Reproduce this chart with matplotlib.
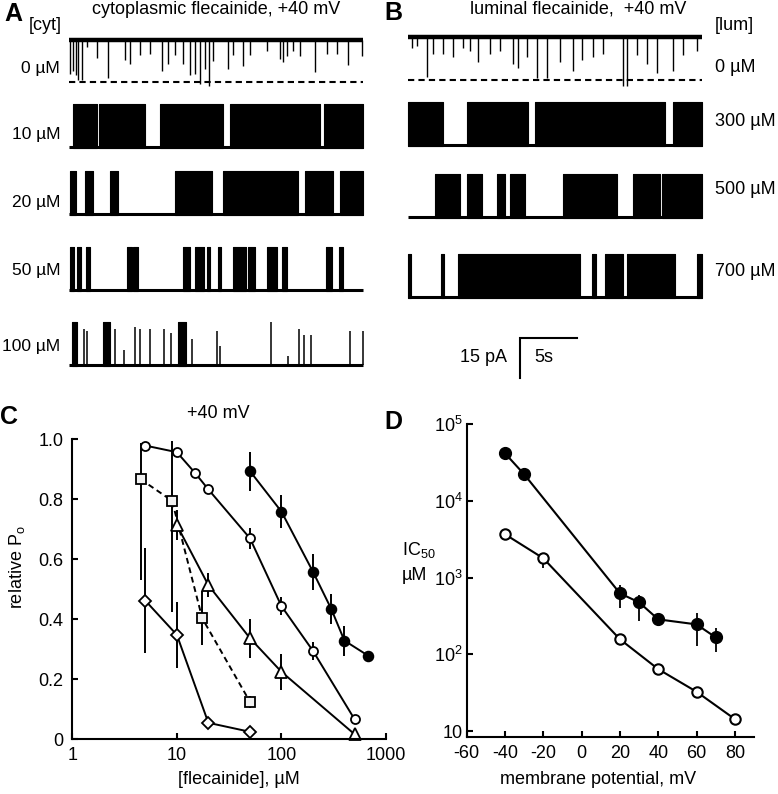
import matplotlib
matplotlib.use('Agg')
import matplotlib.pyplot as plt
import numpy as np

plt.rcParams['font.family'] = ['Liberation Sans', 'DejaVu Sans']
plt.rcParams['mathtext.fontset'] = 'custom'
plt.rcParams['mathtext.rm'] = 'Liberation Sans'
plt.rcParams['mathtext.it'] = 'Liberation Sans:italic'
plt.rcParams['mathtext.bf'] = 'Liberation Sans:bold'
plt.rcParams['mathtext.default'] = 'regular'

FS = 13

# ------------------------------------------------------------------ data
# single-channel traces (time in s, amplitudes as fraction of unitary current)
unit_current = 16.0          # pA
trace_duration = 25.8        # s

cyt_labels = ['0 µM', '10 µM', '20 µM', '50 µM', '100 µM']
lum_labels = ['0 µM', '300 µM', '500 µM', '700 µM']

cyt0_spike_t = [0.09, 0.38, 0.61, 0.82, 1.11, 1.55, 2.43, 3.45, 4.91, 5.35, 6.23, 7.11,
                8.13, 8.71, 9.30, 10.03, 10.61, 11.05, 11.49, 11.93, 12.31, 12.66, 13.97,
                14.41, 15.29, 15.88, 17.34, 18.51, 18.80, 19.15, 19.68, 20.26, 21.58,
                22.61, 23.48, 24.50, 25.68]
cyt0_spike_depth = [0.80, 0.73, 0.84, 0.95, 0.95, 0.18, 0.44, 0.91, 0.47, 0.58, 0.36, 0.33,
                    0.73, 0.58, 0.36, 0.58, 0.84, 0.80, 1.05, 0.69, 1.08, 0.51, 0.69,
                    0.36, 0.62, 0.36, 0.27, 0.45, 0.53, 0.38, 0.27, 0.38, 0.76,
                    0.34, 0.34, 0.60, 0.38]
cyt10_bursts = [(0.32, 2.43), (2.66, 6.67), (7.98, 13.54), (14.12, 22.0), (22.4, 25.8)]
cyt20_bursts = [(0.09, 0.61), (1.40, 2.07), (3.60, 4.32), (9.30, 12.52), (13.54, 20.12),
                (20.70, 23.18), (23.77, 25.8)]
cyt50_bursts = [(0.09, 0.44), (0.73, 1.02), (1.49, 1.84), (5.06, 5.50), (5.58, 6.08),
                (10.03, 10.61), (11.05, 11.84), (12.08, 12.37), (13.10, 13.31),
                (14.41, 15.53), (15.73, 16.32), (17.34, 18.22), (18.65, 19.09),
                (22.54, 23.04), (23.71, 24.01)]
cyt100_bursts = [(0.23, 0.67), (3.01, 3.60), (9.59, 10.26)]
cyt100_spike_t = [1.32, 1.55, 4.04, 4.82, 5.79, 6.23, 7.11, 8.33, 8.92, 10.76, 12.95, 13.25,
                  17.69, 19.24, 20.18, 20.61, 21.23, 24.65, 25.76]
cyt100_spike_h = [0.85, 0.80, 0.85, 0.35, 0.90, 0.85, 0.85, 0.85, 0.75, 0.60, 0.80, 0.45,
                  1.0, 0.2, 0.85, 0.7, 0.7, 0.8, 0.8]

lum0_spike_t = [0.32, 0.76, 1.64, 2.22, 3.10, 3.98, 4.85, 5.44, 6.17, 7.19, 8.07, 9.24, 9.68,
                10.41, 11.29, 12.17, 13.33, 14.45, 15.23, 16.26, 17.13, 18.89, 19.18,
                20.06, 20.94, 21.81, 23.27, 24.15, 25.32]
lum0_spike_depth = [0.25, 0.21, 0.93, 0.38, 0.38, 0.46, 0.25, 0.33, 0.58, 0.38, 0.33, 0.63,
                    0.71, 0.46, 0.96, 0.96, 0.58, 0.79, 0.54, 0.46, 0.38, 1.13, 1.13,
                    0.42, 0.63, 0.83, 0.79, 0.42, 0.33]
lum300_bursts = [(0.03, 3.10), (5.20, 10.55), (11.14, 22.54), (23.22, 25.8)]
lum500_bursts = [(2.37, 4.56), (5.15, 6.46), (7.78, 8.51), (8.95, 10.26), (13.63, 18.30),
                 (19.77, 22.11), (22.25, 25.8)]
lum700_bursts = [(0.03, 0.23), (2.87, 3.16), (4.42, 15.09), (16.11, 16.46), (17.28, 18.89),
                 (19.18, 23.42), (25.32, 25.8)]

scale_bar_current = 15   # pA
scale_bar_time = 5       # s

# panel C: relative Po vs [flecainide]
conc_filled = [50, 100, 200, 300, 400, 680]
po_filled = [0.893, 0.758, 0.558, 0.433, 0.328, 0.277]
err_filled = [0.065, 0.055, 0.06, 0.05, 0.05, 0.0]

conc_open = [5, 10, 15, 20, 50, 100, 200, 500]
po_open = [0.978, 0.956, 0.886, 0.832, 0.669, 0.443, 0.294, 0.066]
err_open = [0, 0, 0, 0, 0.035, 0.03, 0.03, 0]

conc_square = [4.5, 9, 17.5, 50]
po_square = [0.866, 0.794, 0.402, 0.124]
err_square_lo = [0.336, 0.37, 0.09, 0.02]
err_square_hi = [0.12, 0.2, 0.09, 0.02]

conc_tri = [10, 20, 50, 100, 500]
po_tri = [0.713, 0.513, 0.336, 0.224, 0.016]
err_tri = [0.05, 0.04, 0.065, 0.06, 0]

conc_dia = [5, 10, 20, 50]
po_dia = [0.461, 0.347, 0.054, 0.024]
err_dia = [0.175, 0.11, 0, 0]

c_xticks = [1, 10, 100, 1000]
c_xticklabels = ['1', '10', '100', '1000']
c_yticks = [0, 0.2, 0.4, 0.6, 0.8, 1.0]
c_yticklabels = ['0', '0.2', '0.4', '0.6', '0.8', '1.0']

# panel D: IC50 vs membrane potential
vm_filled = [-40, -30, 20, 30, 40, 60, 70]
ic50_filled = [41500, 22100, 622, 475, 285, 245, 166]
ic50_filled_lo = [41500, 22100, 397, 271, 240, 130, 108]
ic50_filled_hi = [41500, 22100, 798, 600, 300, 342, 218]

vm_open = [-40, -20, 20, 40, 60, 80]
ic50_open = [3660, 1780, 157, 64, 32.5, 14.3]
ic50_open_lo = [3660, 1320, 157, 64, 32.5, 14.3]
ic50_open_hi = [3660, 1780, 157, 64, 32.5, 14.3]

d_xticks = [-60, -40, -20, 0, 20, 40, 60, 80]
d_xticklabels = ['-60', '-40', '-20', '0', '20', '40', '60', '80']
d_yticks = [10, 1e2, 1e3, 1e4, 1e5]
d_yticklabels = ['10', '$10^2$', '$10^3$', '$10^4$', '$10^5$']

# ------------------------------------------------------------------ layout helpers
W, H = 778, 794
fig = plt.figure(figsize=(W / 100, H / 100), dpi=100)


def rect(x0, y0, x1, y1):
    return [x0 / W, 1 - y1 / H, (x1 - x0) / W, (y1 - y0) / H]


def ftext(x, y, s, **kw):
    fig.text(x / W, 1 - y / H, s, **kw)


PA_PER_PX = 0.375
TR_TOP, TR_BOT = 20, 385


def trace_axes(x0, x1):
    ax = fig.add_axes(rect(x0, TR_TOP, x1, TR_BOT))
    ax.set_xlim(0, trace_duration)
    ax.set_ylim(0, (TR_BOT - TR_TOP) * PA_PER_PX)
    ax.axis('off')
    return ax


def base_of(px):
    return (TR_BOT - px) * PA_PER_PX


def draw_open_trace(ax, base, ts, depths):
    amp = unit_current
    ax.plot([0, trace_duration], [base + amp] * 2, color='k', lw=3.2,
            solid_capstyle='butt', clip_on=False)
    ax.vlines(ts, [base + amp - d * amp for d in depths], base + amp, color='k', lw=1.0,
              clip_on=False)
    ax.plot([0, trace_duration], [base, base], color='k', lw=1.5, ls=(0, (3, 2)),
            clip_on=False)


def draw_burst_trace(ax, base, bursts, spikes_t=(), spikes_h=()):
    amp = unit_current
    ax.plot([0, trace_duration], [base, base], color='k', lw=2.2,
            solid_capstyle='butt', clip_on=False)
    for a, b in bursts:
        ax.fill_between([a, b], base - 0.03 * amp, base + amp, color='k', lw=0.8,
                        clip_on=False)
    if len(spikes_t):
        ax.vlines(spikes_t, base, [base + h * amp for h in spikes_h], color='k', lw=1.1,
                  clip_on=False)


# ------------------------------------------------------------------ panel A
axA = trace_axes(69, 363)
cyt_base_px = [82.3, 147, 214, 290, 365]
draw_open_trace(axA, base_of(cyt_base_px[0]), cyt0_spike_t, cyt0_spike_depth)
draw_burst_trace(axA, base_of(cyt_base_px[1]), cyt10_bursts)
draw_burst_trace(axA, base_of(cyt_base_px[2]), cyt20_bursts)
draw_burst_trace(axA, base_of(cyt_base_px[3]), cyt50_bursts)
draw_burst_trace(axA, base_of(cyt_base_px[4]), cyt100_bursts, cyt100_spike_t, cyt100_spike_h)

for lab, y in zip(cyt_labels, [68, 135, 203, 270, 347]):
    ftext(60, y, lab, ha='right', va='center', fontsize=12.5)
ftext(13, 14, 'A', ha='center', va='center', fontsize=18, fontweight='bold')
ftext(216, 9, 'cytoplasmic flecainide, +40 mV', ha='center', va='center', fontsize=FS)
ftext(45, 25, '[cyt]', ha='center', va='center', fontsize=FS)

# ------------------------------------------------------------------ panel B
axB = trace_axes(408, 702)
lum_base_px = [80, 145, 217, 297]
draw_open_trace(axB, base_of(lum_base_px[0]), lum0_spike_t, lum0_spike_depth)
draw_burst_trace(axB, base_of(lum_base_px[1]), lum300_bursts)
draw_burst_trace(axB, base_of(lum_base_px[2]), lum500_bursts)
draw_burst_trace(axB, base_of(lum_base_px[3]), lum700_bursts)

# scale bar
sb_t0 = (520 - 408) / 11.4
sb_y0 = base_of(378)
axB.plot([sb_t0, sb_t0, sb_t0 + scale_bar_time],
         [sb_y0, sb_y0 + scale_bar_current, sb_y0 + scale_bar_current],
         color='k', lw=1.5, clip_on=False, solid_joinstyle='miter')
ftext(483, 357, f'{scale_bar_current} pA', ha='center', va='center', fontsize=FS)
ftext(544, 357, f'{scale_bar_time}s', ha='center', va='center', fontsize=FS)

for lab, y in zip(lum_labels, [68, 122, 190, 272]):
    ftext(715, y, lab, ha='left', va='center', fontsize=FS)
ftext(393, 13, 'B', ha='center', va='center', fontsize=18, fontweight='bold')
ftext(578, 9, 'luminal flecainide,  +40 mV', ha='center', va='center', fontsize=FS)
ftext(715, 25, '[lum]', ha='left', va='center', fontsize=FS)


def style_axes(ax, xpad, ypad):
    for s in ['top', 'right']:
        ax.spines[s].set_visible(False)
    for s in ['left', 'bottom']:
        ax.spines[s].set_linewidth(1.5)
    ax.tick_params(which='major', direction='in', length=4, width=1.5, labelsize=FS)
    ax.tick_params(axis='x', pad=xpad)
    ax.tick_params(axis='y', pad=ypad)
    ax.tick_params(which='minor', length=0)


# ------------------------------------------------------------------ panel C
axC = fig.add_axes(rect(72.3, 439, 386, 739))
axC.set_xscale('log')
axC.set_xlim(1, 1000)
axC.set_ylim(0, 1.0)
style_axes(axC, 6, 6.5)
axC.set_xticks(c_xticks)
axC.set_xticklabels(c_xticklabels)
axC.set_yticks(c_yticks)
axC.set_yticklabels(c_yticklabels)
axC.minorticks_off()

lw_c = 1.4
common = dict(color='k', lw=lw_c, elinewidth=1.4, capsize=0, mec='k', mew=1.3,
              clip_on=False)
axC.errorbar(conc_square, po_square, yerr=[err_square_lo, err_square_hi], fmt='s',
             ls=(0, (3, 2)), ms=6.5, mfc='#f2f2f2', **common)
axC.errorbar(conc_dia, po_dia, yerr=err_dia, fmt='D-', ms=6.2, mfc='white', **common)
axC.errorbar(conc_tri, po_tri, yerr=err_tri, fmt='^-', ms=8, mfc='white', **common)
axC.errorbar(conc_open, po_open, yerr=err_open, fmt='o-', ms=6.5, mfc='white', **common)
axC.errorbar(conc_filled, po_filled, yerr=err_filled, fmt='o-', ms=7, mfc='k', **common)

axC.set_xlabel('[flecainide], µM', fontsize=FS)
axC.xaxis.label.set_va('center')
axC.xaxis.set_label_coords((239 - 72.3) / 313.7, (739 - 780) / 300)
axC.set_ylabel('relative P$_{o}$', fontsize=FS)
axC.yaxis.label.set_va('center')
axC.yaxis.set_label_coords((17 - 72.3) / 313.7, (739 - 567) / 300)
ftext(218, 413, '+40 mV', ha='center', va='center', fontsize=FS)
ftext(9, 417, 'C', ha='center', va='center', fontsize=18, fontweight='bold')

# ------------------------------------------------------------------ panel D
axD = fig.add_axes(rect(466.7, 424, 754, 737))
axD.set_yscale('log')
axD.set_xlim(-60, 90)
axD.set_ylim(8.36, 1e5)
style_axes(axD, 6, 3)
axD.set_xticks(d_xticks)
axD.set_xticklabels(d_xticklabels)
axD.set_yticks(d_yticks)
axD.set_yticklabels(d_yticklabels)
axD.minorticks_off()

ic_f = np.array(ic50_filled, dtype=float)
ic_o = np.array(ic50_open, dtype=float)
axD.errorbar(vm_open, ic_o,
             yerr=[ic_o - np.array(ic50_open_lo), np.array(ic50_open_hi) - ic_o],
             fmt='o-', ms=7.5, mfc='white', color='k', lw=1.5, elinewidth=1.3,
             mec='k', mew=1.5, clip_on=False)
axD.errorbar(vm_filled, ic_f,
             yerr=[ic_f - np.array(ic50_filled_lo), np.array(ic50_filled_hi) - ic_f],
             fmt='o-', ms=8.5, mfc='k', color='k', lw=1.5, elinewidth=1.3,
             mec='k', mew=1.0, clip_on=False)

axD.set_xlabel('membrane potential, mV', fontsize=FS)
axD.xaxis.label.set_va('center')
axD.xaxis.set_label_coords((598 - 466.7) / 287.3, (737 - 780) / 313)
ftext(402, 550, 'IC$_{50}$', ha='left', va='center', fontsize=FS)
ftext(402, 576, 'µM', ha='left', va='center', fontsize=FS)
ftext(393, 422, 'D', ha='center', va='center', fontsize=18, fontweight='bold')

fig.savefig('out.png', dpi=100)
